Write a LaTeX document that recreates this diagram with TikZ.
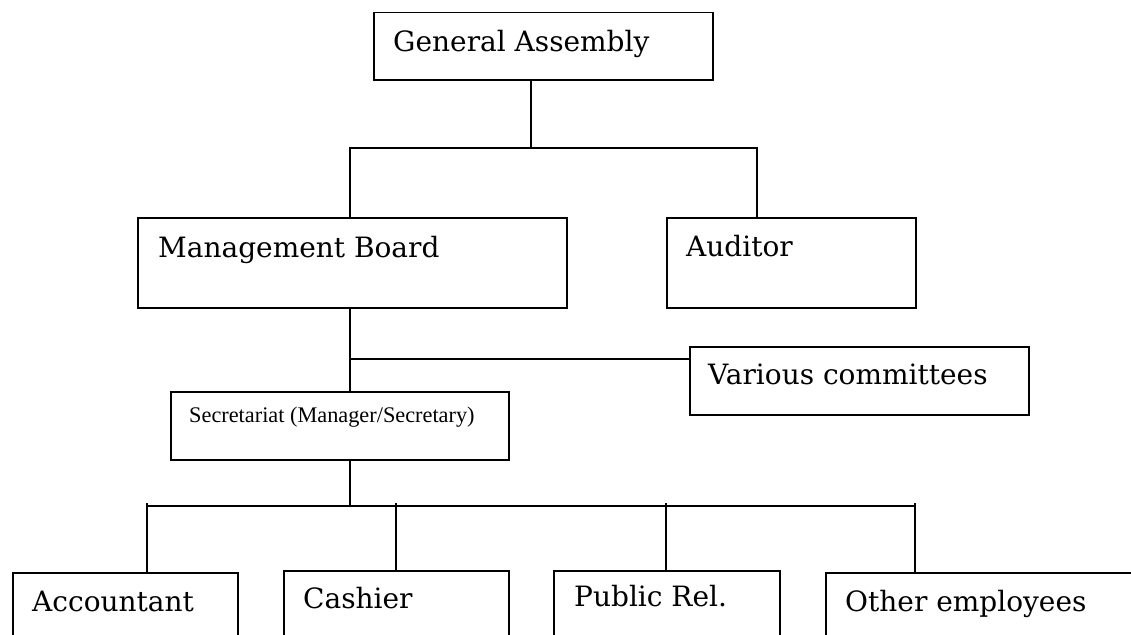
\documentclass[tikz,border=0pt]{standalone}
\usepackage{fontspec}
\setmainfont{DejaVu Serif}
\newfontfamily\timesf{Liberation Serif}
\begin{document}
\begin{tikzpicture}[x=1pt,y=-1pt,
  box/.style={draw=black, line width=1.5pt, anchor=north west, inner sep=0pt, fill=none},
  lbl/.style={anchor=base west, inner sep=0pt, font=\fontsize{28}{32}\selectfont},
  small/.style={anchor=base west, inner sep=0pt, font=\timesf\fontsize{22.3}{26}\selectfont},
  wire/.style={draw=black, line width=1.5pt}]
\useasboundingbox (0,0) rectangle (1131,634);
\fill[white] (0,0) rectangle (1131,634);
\clip (0,0) rectangle (1131,634);
% boxes
\node[box, minimum width=339pt, minimum height=67pt] (ga) at (373,12) {};
\node[lbl] (gat) at (393,52) {General Assembly};
\node[box, minimum width=429pt, minimum height=90pt] (mb) at (137,217) {};
\node[lbl] (mbt) at (158,257) {Management Board};
\node[box, minimum width=249pt, minimum height=90pt] (au) at (666,217) {};
\node[lbl] (aut) at (686,256) {Auditor};
\node[box, minimum width=339pt, minimum height=68pt] (vc) at (689,346) {};
\node[lbl] (vct) at (708,384) {Various committees};
\node[box, minimum width=338pt, minimum height=68pt] (se) at (170,391) {};
\node[small] (set) at (189,422) {Secretariat (Manager/Secretary)};
\node[box, minimum width=225pt, minimum height=120pt] (ac) at (12,572) {};
\node[lbl] (act) at (32,611) {Accountant};
\node[box, minimum width=225pt, minimum height=120pt] (ca) at (283,570) {};
\node[lbl] (cat) at (303,608) {Cashier};
\node[box, minimum width=226pt, minimum height=120pt] (pr) at (553,570) {};
\node[lbl] (prt) at (574,606) {Public Rel.};
\node[box, minimum width=340pt, minimum height=120pt] (oe) at (825,572) {};
\node[lbl] (oet) at (845,611) {Other employees};
% junction coordinates
\coordinate (j1) at (531,148);
\coordinate (jl) at (350,148);
\coordinate (jr) at (757,148);
\coordinate (j2) at (350,359);
\coordinate (j3) at (350,506);
\coordinate (b1) at (147,506);
\coordinate (b2) at (396,506);
\coordinate (b3) at (666,506);
\coordinate (b4) at (915,506);
% connectors
\draw[wire] (j1 |- ga.south) -- (j1);
\draw[wire] (jl |- mb.north) -- (jl) -- (jr) -- (jr |- au.north);
\draw[wire] (j2 |- mb.south) -- (j2 |- se.north);
\draw[wire] (j2) -- (vc.west |- j2);
\draw[wire] (j3 |- se.south) -- (j3);
\draw[wire] (b1) -- (b4);
\draw[wire] ([yshift=3pt]b1) -- (b1 |- ac.north);
\draw[wire] ([yshift=3pt]b2) -- (b2 |- ca.north);
\draw[wire] ([yshift=3pt]b3) -- (b3 |- pr.north);
\draw[wire] ([yshift=3pt]b4) -- (b4 |- oe.north);
\end{tikzpicture}
\end{document}
